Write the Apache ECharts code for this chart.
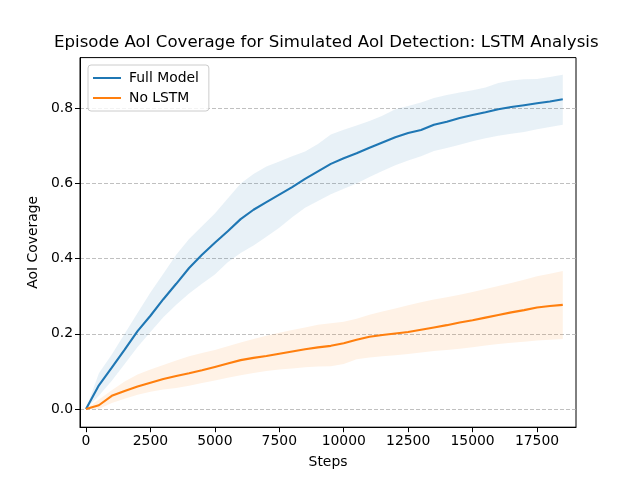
<!DOCTYPE html>
<html>
<head>
<meta charset="utf-8">
<script src="https://cdn.jsdelivr.net/npm/echarts@6/dist/echarts.min.js"></script>
<style>html,body{margin:0;padding:0;background:#fff}#c{width:640px;height:480px}</style>
</head>
<body>
<div id="c"></div>
<script>
var steps = [0,500,1000,1500,2000,2500,3000,3500,4000,4500,5000,5500,6000,6500,7000,7500,8000,8500,9000,9500,10000,10500,11000,11500,12000,12500,13000,13500,14000,14500,15000,15500,16000,16500,17000,17500,18000,18500];
var fullMean = [0,0.063,0.11,0.158,0.207,0.248,0.292,0.333,0.375,0.41,0.442,0.473,0.505,0.53,0.55,0.57,0.59,0.612,0.632,0.652,0.667,0.68,0.695,0.709,0.723,0.734,0.742,0.756,0.764,0.774,0.782,0.789,0.797,0.803,0.808,0.813,0.818,0.824];
var fullUpper = [0,0.095,0.145,0.2,0.255,0.31,0.36,0.41,0.452,0.486,0.52,0.56,0.6,0.625,0.645,0.658,0.672,0.685,0.705,0.73,0.743,0.754,0.766,0.78,0.797,0.806,0.815,0.827,0.835,0.842,0.848,0.855,0.867,0.874,0.877,0.878,0.883,0.889];
var fullLower = [0,0.035,0.075,0.12,0.165,0.205,0.244,0.277,0.307,0.333,0.358,0.39,0.415,0.435,0.458,0.482,0.51,0.535,0.553,0.571,0.586,0.6,0.617,0.633,0.648,0.661,0.672,0.686,0.694,0.703,0.712,0.72,0.727,0.732,0.737,0.744,0.75,0.756];
var noLstmMean = [0,0.01,0.035,0.048,0.06,0.07,0.08,0.088,0.095,0.103,0.112,0.121,0.13,0.136,0.141,0.147,0.153,0.159,0.164,0.168,0.175,0.184,0.192,0.197,0.201,0.205,0.211,0.217,0.223,0.23,0.236,0.243,0.25,0.257,0.263,0.27,0.274,0.277];
var noLstmUpper = [0,0.025,0.05,0.073,0.092,0.105,0.117,0.129,0.14,0.149,0.157,0.167,0.177,0.186,0.195,0.203,0.21,0.217,0.224,0.228,0.232,0.24,0.251,0.259,0.267,0.276,0.284,0.291,0.297,0.304,0.311,0.319,0.327,0.335,0.344,0.353,0.36,0.367];
var noLstmLower = [0,0.0,0.016,0.027,0.038,0.046,0.052,0.056,0.062,0.069,0.076,0.083,0.09,0.096,0.101,0.105,0.108,0.111,0.113,0.114,0.12,0.132,0.137,0.14,0.143,0.146,0.15,0.154,0.157,0.16,0.164,0.169,0.173,0.176,0.179,0.182,0.184,0.186];
var xTicks = [0,2500,5000,7500,10000,12500,15000,17500];
var yTicks = [0,0.2,0.4,0.6,0.8];

function pairs(a){ return steps.map(function(s,i){ return [s,a[i]]; }); }

var FONT = 'DejaVu Sans';
var chart = echarts.init(document.getElementById('c'), null, {renderer:'canvas'});

function band(lower, upper, color){
  var data = steps.map(function(s,i){ return [s, lower[i], upper[i]]; });
  return {
    type:'custom', silent:true, z:1, clip:true,
    encode:{x:0, y:[1,2]},
    data: data,
    renderItem: function(params, api){
      if (params.dataIndex !== 0) return null;
      var top = [], bot = [];
      for (var i = 0; i < data.length; i++) {
        top.push(api.coord([data[i][0], data[i][2]]));
        bot.push(api.coord([data[i][0], data[i][1]]));
      }
      var pts = top.concat(bot.reverse());
      return {type:'polygon', shape:{points:pts}, style:{fill:color, stroke:null}};
    }
  };
}

var option = {
  animation:false,
  backgroundColor:'#ffffff',
  title:{text:'Episode AoI Coverage for Simulated AoI Detection: LSTM Analysis', left:54, top:34, padding:0,
    textStyle:{fontFamily:FONT, fontSize:16.6, fontWeight:'normal', color:'#000'}},
  legend:{data:[{name:'Full Model'},{name:'No LSTM'}], orient:'vertical', left:88, top:65, icon:'rect', itemWidth:28, itemHeight:2,
    itemGap:6, padding:[6,10,6,5], backgroundColor:'rgba(255,255,255,0.8)', borderColor:'#cccccc', borderWidth:1, borderRadius:3,
    textStyle:{fontFamily:FONT, fontSize:13.9, color:'#000', padding:[0,0,0,3]}},
  grid:{left:80, right:64, top:57.6, bottom:52.8, show:true, borderColor:'#000', borderWidth:1, backgroundColor:'transparent'},
  xAxis:{type:'value', min:-233, max:19013,
    name:'Steps', nameLocation:'middle', nameGap:28, nameTextStyle:{fontFamily:FONT, fontSize:13.9, color:'#000'},
    axisLine:{show:true, onZero:false, lineStyle:{color:'#000'}},
    axisTick:{show:true, length:5, lineStyle:{color:'#000'}, customValues:xTicks},
    axisLabel:{fontFamily:FONT, fontSize:13.9, color:'#000', margin:7, customValues:xTicks, formatter:function(v){return String(Math.round(v));}},
    splitLine:{show:false}},
  yAxis:{type:'value', min:-0.0484, max:0.9346,
    name:'AoI Coverage', nameLocation:'middle', nameGap:37, nameTextStyle:{fontFamily:FONT, fontSize:13.9, color:'#000'},
    axisLine:{show:true, onZero:false, lineStyle:{color:'#000'}},
    axisTick:{show:true, length:5, lineStyle:{color:'#000'}, customValues:yTicks},
    axisLabel:{fontFamily:FONT, fontSize:13.9, color:'#000', margin:7, customValues:yTicks, formatter:function(v){return v.toFixed(1);}},
    splitLine:{show:true, lineStyle:{color:'#b0b0b0', type:[4,2], width:0.8}}},
  series: [
    band(fullLower, fullUpper, 'rgba(31,119,180,0.1)'),
    band(noLstmLower, noLstmUpper, 'rgba(255,127,14,0.1)'),
    {name:'Full Model', type:'line', data:pairs(fullMean), symbol:'none', lineStyle:{color:'#1f77b4', width:2.1}, itemStyle:{color:'#1f77b4'}, z:3},
    {name:'No LSTM', type:'line', data:pairs(noLstmMean), symbol:'none', lineStyle:{color:'#ff7f0e', width:2.1}, itemStyle:{color:'#ff7f0e'}, z:3}
  ]
};
chart.setOption(option);
</script>
</body>
</html>
